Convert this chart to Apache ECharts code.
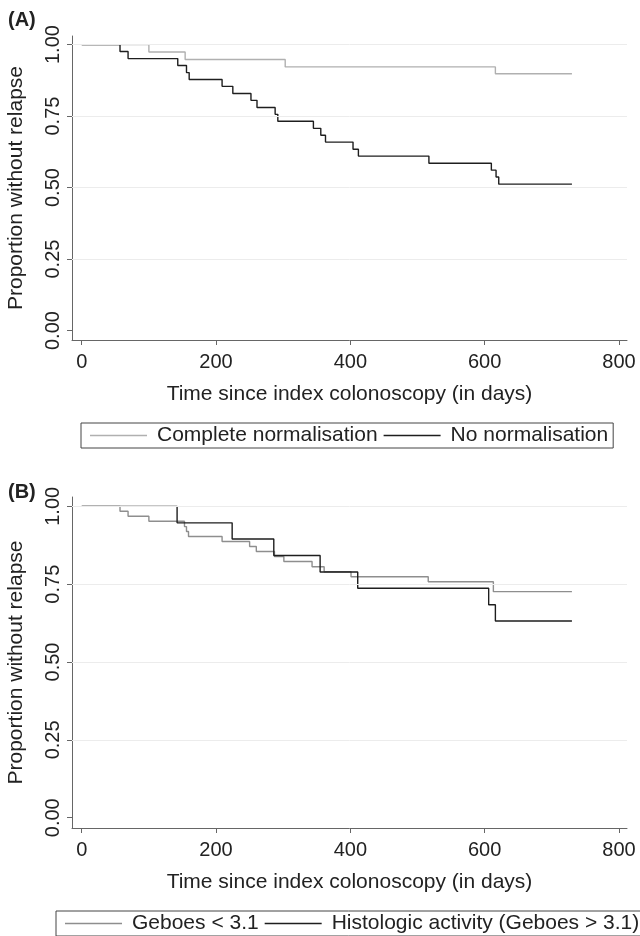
<!DOCTYPE html>
<html>
<head>
<meta charset="utf-8">
<script src="https://cdn.jsdelivr.net/npm/echarts@6/dist/echarts.min.js"></script>
<style>
  html, body { margin: 0; padding: 0; background: #fff; }
  #chart { width: 640px; height: 936px; }
</style>
</head>
<body>
<div id="chart"></div>
<script>
// tick labels
const xTicks = [0, 200, 400, 600, 800];
const yTicks = [0, 0.25, 0.5, 0.75, 1];

// panel A: complete normalisation vs none
const aNames = ['Complete normalisation', 'No normalisation'];
const aGreyDays = [0, 100, 154, 303, 616, 730];
const aGreyProp = [1, 0.974, 0.948, 0.922, 0.898, 0.898];
const aBlackDays = [0, 57, 69, 143, 156, 160, 209, 225, 252, 261, 288, 292, 345, 356, 363, 404, 412, 517, 610, 617, 621, 730];
const aBlackProp = [1, 0.976, 0.951, 0.927, 0.902, 0.878, 0.854, 0.829, 0.805, 0.780, 0.756, 0.732, 0.707, 0.683, 0.659, 0.634, 0.610, 0.585, 0.561, 0.537, 0.512, 0.512];

// panel B: Geboes score
const bNames = ['Geboes < 3.1', 'Histologic activity (Geboes > 3.1)'];
const bGreyDays = [0, 57, 69, 100, 153, 156, 159, 209, 250, 260, 287, 301, 343, 361, 401, 516, 613, 730];
const bGreyProp = [1, 0.984, 0.968, 0.952, 0.935, 0.919, 0.903, 0.887, 0.871, 0.855, 0.839, 0.823, 0.806, 0.790, 0.774, 0.758, 0.726, 0.726];
const bBlackDays = [0, 142, 224, 286, 355, 411, 606, 616, 730];
const bBlackProp = [1, 0.947, 0.895, 0.842, 0.789, 0.737, 0.684, 0.632, 0.632];

const font = 'Liberation Sans, Arial, Helvetica, sans-serif';
const axisColor = '#666';
const textColor = '#222';

function zip(xs, ys) {
	return xs.map((x, i) => [x, ys[i]]);
}

function makeX(idx) {
	return {
		gridIndex: idx,
		type: 'value',
		min: -14.5,
		max: 812,
		name: 'Time since index colonoscopy (in days)',
		nameLocation: 'middle',
		nameGap: 44,
		nameTextStyle: { fontSize: 21, color: textColor, fontFamily: font },
		axisLine: { show: true, onZero: false, lineStyle: { color: axisColor, width: 1 } },
		axisTick: { show: true, customValues: xTicks, length: 5, lineStyle: { color: axisColor } },
		axisLabel: { customValues: xTicks, fontSize: 20, color: textColor, fontFamily: font, margin: 12 },
		splitLine: { show: false }
	};
}

function makeY(idx) {
	return {
		gridIndex: idx,
		type: 'value',
		min: -0.033,
		max: 1.03,
		name: 'Proportion without relapse',
		nameLocation: 'middle',
		nameGap: 45,
		nameTextStyle: { fontSize: 21, color: textColor, fontFamily: font },
		axisLine: { show: true, onZero: false, lineStyle: { color: axisColor, width: 1 } },
		axisTick: { show: true, customValues: yTicks, length: 5, lineStyle: { color: axisColor } },
		axisLabel: {
			customValues: yTicks,
			rotate: 90,
			fontSize: 20,
			color: textColor,
			fontFamily: font,
			margin: 9,
			formatter: (v) => v.toFixed(2)
		},
		splitLine: { show: false }
	};
}

function makeSeries(name, idx, days, prop, color, withGrid) {
	const s = {
		name: name,
		type: 'line',
		step: 'end',
		xAxisIndex: idx,
		yAxisIndex: idx,
		symbol: 'none',
		lineStyle: { color: color, width: 1.4 },
		itemStyle: { color: color },
		data: zip(days, prop)
	};
	if (withGrid) {
		// light horizontal grid lines
		s.markLine = {
			silent: true,
			symbol: ['none', 'none'],
			label: { show: false },
			lineStyle: { color: '#ececec', width: 1, type: 'solid' },
			data: yTicks.filter((v) => v > 0).map((v) => ({ yAxis: v }))
		};
		s.z = 1;
	}
	return s;
}

function makeLegend(names, left, top, width) {
	return {
		data: names,
		left: left,
		top: top,
		width: width,
		orient: 'horizontal',
		icon: 'rect',
		itemWidth: 57,
		itemHeight: 1.4,
		itemGap: 6,
		borderColor: '#444',
		borderWidth: 1,
		borderRadius: 0,
		padding: [2, 5, 2, 9],
		textStyle: { fontSize: 21, color: textColor, fontFamily: font, padding: [0, 0, 0, 5] }
	};
}

var myChart = echarts.init(document.getElementById('chart'), null, { renderer: 'canvas' });

var option = {
	animation: false,
	backgroundColor: '#fff',
	textStyle: { fontFamily: font },
	title: [
		{ text: '(A)', left: 8, top: 10, padding: 0, textStyle: { fontSize: 20, fontWeight: 'bold', color: textColor, fontFamily: font } },
		{ text: '(B)', left: 8, top: 482, padding: 0, textStyle: { fontSize: 20, fontWeight: 'bold', color: textColor, fontFamily: font } }
	],
	legend: [
		makeLegend(aNames, 81, 423, 560),
		makeLegend(bNames, 56, 911, 620)
	],
	grid: [
		{ left: 72, right: 13, top: 36, height: 304, outerBoundsMode: 'none' },
		{ left: 72, right: 13, top: 497, height: 331, outerBoundsMode: 'none' }
	],
	xAxis: [makeX(0), makeX(1)],
	yAxis: [makeY(0), makeY(1)],
	series: [
		makeSeries(aNames[0], 0, aGreyDays, aGreyProp, '#b0b0b0', true),
		makeSeries(aNames[1], 0, aBlackDays, aBlackProp, '#1e1e1e', false),
		makeSeries(bNames[0], 1, bGreyDays, bGreyProp, '#8e8e8e', true),
		makeSeries(bNames[1], 1, bBlackDays, bBlackProp, '#1e1e1e', false)
	]
};

myChart.setOption(option);
</script>
</body>
</html>
